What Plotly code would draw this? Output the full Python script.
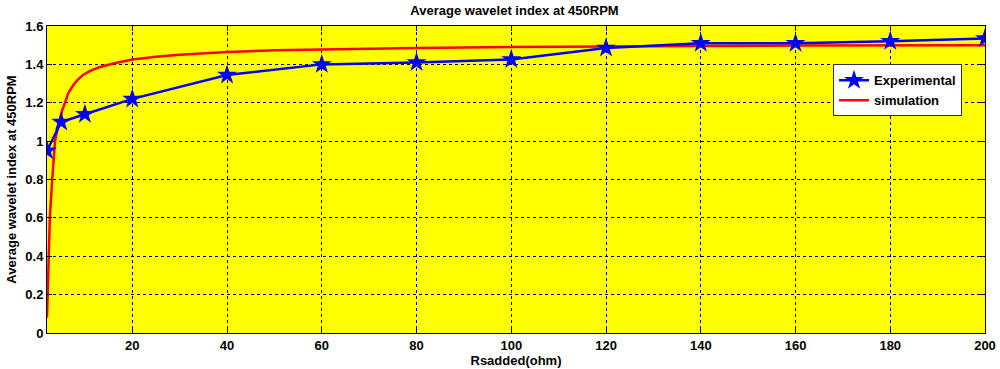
import plotly.graph_objects as go

# Experimental data
exp_x = [2, 5, 10, 20, 40, 60, 80, 100, 120, 140, 160, 180, 200]
exp_y = [0.95, 1.10, 1.14, 1.22, 1.345, 1.40, 1.41, 1.425, 1.485, 1.51, 1.51, 1.52, 1.535]

# Simulation curve
sim_x = [2, 2.2, 2.4, 2.6, 3.1, 3.7, 4.2, 4.7, 5.2, 5.8, 6.5, 7.5, 8.5, 9.6, 11, 13, 16, 20, 25, 30, 40, 50,
         60, 80, 100, 120, 140, 160, 180, 200]
sim_y = [0.08, 0.28, 0.40, 0.60, 0.80, 1.00, 1.06, 1.11, 1.16, 1.20, 1.25, 1.29, 1.32, 1.345, 1.365, 1.385,
         1.405, 1.425, 1.44, 1.45, 1.465, 1.473, 1.478, 1.485, 1.49, 1.494, 1.496, 1.498, 1.499, 1.50]

x_ticks = [20, 40, 60, 80, 100, 120, 140, 160, 180, 200]
y_ticks = [0, 0.2, 0.4, 0.6, 0.8, 1.0, 1.2, 1.4, 1.6]
y_ticklabels = ["0", "0.2", "0.4", "0.6", "0.8", "1", "1.2", "1.4", "1.6"]

fig = go.Figure()
fig.add_trace(go.Scatter(x=sim_x, y=sim_y, mode="lines", name="simulation",
                         line=dict(color="#FF0000", width=2.5)))
fig.add_trace(go.Scatter(x=exp_x, y=exp_y, mode="lines+markers", name="Experimental",
                         line=dict(color="#0000FF", width=2.5),
                         marker=dict(symbol="star", size=15, color="#0000FF",
                                     line=dict(width=0))))

axis_common = dict(showline=True, linecolor="black", linewidth=1, mirror="ticks",
                   ticks="inside", ticklen=5, tickcolor="black",
                   showgrid=True, gridcolor="black", griddash="dot", gridwidth=1,
                   zeroline=False, tickfont=dict(size=13, weight="bold"))

fig.update_layout(
    width=1000, height=369,
    paper_bgcolor="white", plot_bgcolor="#FFFF00",
    margin=dict(l=47, r=15, t=26, b=36, autoexpand=False),
    font=dict(family="Liberation Sans, Arial, sans-serif", size=13, color="black", weight="bold"),
    title=dict(text="Average wavelet index at 450RPM", x=0.5145, xanchor="center",
               y=0.972, yanchor="middle", font=dict(size=13, weight="bold")),
    xaxis=dict(range=[2, 200], tickvals=x_ticks,
               title=dict(text="Rsadded(ohm)", standoff=3, font=dict(size=13, weight="bold")),
               **axis_common),
    yaxis=dict(range=[0, 1.6], tickvals=y_ticks, ticktext=y_ticklabels,
               title=dict(text="Average wavelet index at 450RPM", standoff=5,
                          font=dict(size=13, weight="bold")),
               **axis_common),
    legend=dict(x=0.838, y=0.875, xanchor="left", yanchor="top",
                bgcolor="white", bordercolor="#333333", borderwidth=1,
                traceorder="reversed", font=dict(size=13, weight="bold"),
                tracegroupgap=0),
    showlegend=True,
)

fig.write_html("out.html", config={"displayModeBar": False},
               post_script="document.body.style.margin='0';")
